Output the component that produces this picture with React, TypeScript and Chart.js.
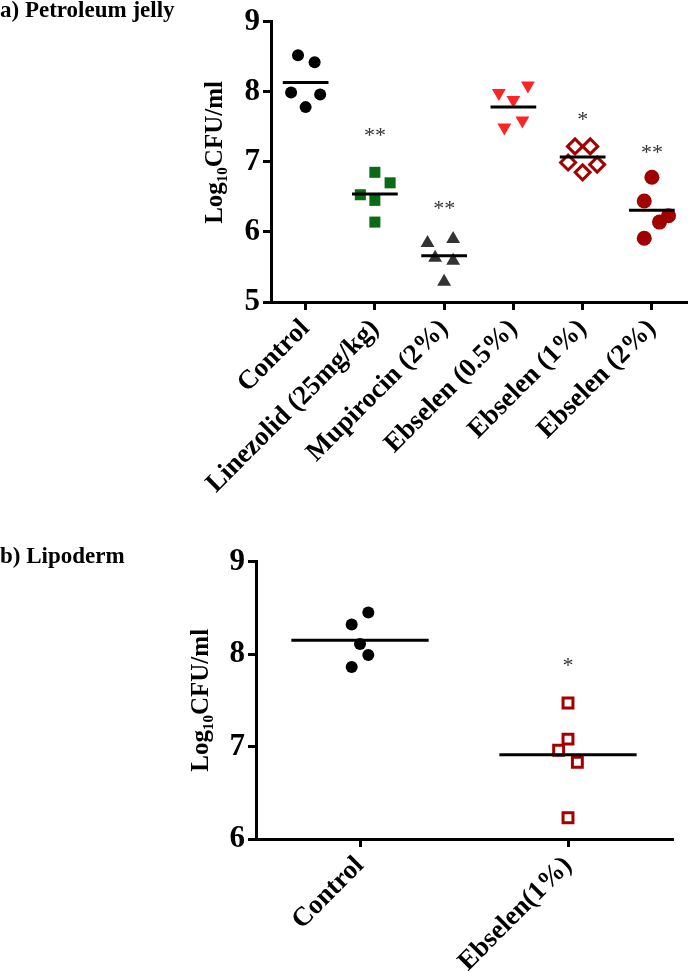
import React, { useEffect, useRef } from 'react';
import { Chart, registerables } from 'chart.js';
Chart.register(...registerables);

const FONT = "'Liberation Serif', 'Times New Roman', serif";

// ---------- Panel a) Petroleum jelly ----------
const topCategories = ['Control', 'Linezolid (25mg/kg)', 'Mupirocin (2%)', 'Ebselen (0.5%)', 'Ebselen (1%)', 'Ebselen (2%)'];
const topValues = [
  [8.52, 8.42, 7.99, 7.96, 7.78],
  [6.85, 6.70, 6.53, 6.45, 6.14],
  [5.84, 5.90, 5.63, 5.59, 5.29],
  [7.98, 8.09, 7.88, 7.59, 7.49],
  [7.22, 7.22, 6.99, 6.96, 6.85],
  [6.78, 6.44, 6.23, 6.14, 5.91],
];
const topJitter = [
  [-0.11, 0.13, -0.21, 0.21, 0],
  [0, 0.22, -0.21, 0, 0],
  [-0.24, 0.13, -0.13, 0.13, 0],
  [-0.21, 0.21, 0, 0.13, -0.13],
  [-0.11, 0.11, -0.21, 0.21, 0],
  [0, -0.11, 0.24, 0.11, -0.11],
];
const topMeans = [8.13, 6.54, 5.66, 7.78, 7.07, 6.31];
const topStars = ['', '**', '**', '', '*', '**'];
const topStarLevels = [null, 7.42, 6.38, null, 7.66, 7.18];
const topYTicks = [5, 6, 7, 8, 9];

// ---------- Panel b) Lipoderm ----------
const bottomCategories = ['Control', 'Ebselen(1%)'];
const bottomValues = [
  [8.45, 8.32, 8.11, 7.99, 7.86],
  [7.47, 7.08, 6.96, 6.83, 6.23],
];
const bottomJitter = [
  [0.04, -0.04, 0, 0.04, -0.04],
  [0, 0, -0.045, 0.045, 0],
];
const bottomMeans = [8.15, 6.91];
const bottomStars = ['', '*'];
const bottomStarLevels = [null, 7.91];
const bottomYTicks = [6, 7, 8, 9];

const yTitle = 'Log\u2081\u2080CFU/ml';

type MarkerStyle = { pointStyle: string; color: string; fill: string; radius: number; borderWidth: number; rotation?: number };

const topMarkers: MarkerStyle[] = [
  { pointStyle: 'circle', color: '#000000', fill: '#000000', radius: 6, borderWidth: 0 },
  { pointStyle: 'rect', color: '#0b6a14', fill: '#0b6a14', radius: 7.8, borderWidth: 0 },
  { pointStyle: 'triangle', color: '#333333', fill: '#333333', radius: 8, borderWidth: 0 },
  { pointStyle: 'triangle', color: '#ff2424', fill: '#ff2424', radius: 8, borderWidth: 0, rotation: 180 },
  { pointStyle: 'rectRot', color: '#a30000', fill: '#ffffff', radius: 7.5, borderWidth: 3 },
  { pointStyle: 'circle', color: '#a00000', fill: '#a00000', radius: 7.5, borderWidth: 0 },
];
const bottomMarkers: MarkerStyle[] = [
  { pointStyle: 'circle', color: '#000000', fill: '#000000', radius: 6, borderWidth: 0 },
  { pointStyle: 'rect', color: '#a30000', fill: '#ffffff', radius: 7, borderWidth: 3 },
];

type PanelCfg = {
  categories: string[];
  values: number[][];
  jitter: number[][];
  means: number[];
  stars: string[];
  starLevels: (number | null)[];
  yTicks: number[];
  markers: MarkerStyle[];
  title: string;
  padLeft: number;
  padRight: number;
  padTop: number;
  yWidth: number;
  xHeight: number;
};

function buildChart(canvas: HTMLCanvasElement, p: PanelCfg) {
  const datasets: any[] = [];
  p.values.forEach((vals, i) => {
    const m = p.markers[i];
    datasets.push({
      type: 'scatter',
      label: p.categories[i],
      data: vals.map((v, j) => ({ x: i + p.jitter[i][j], y: v })),
      pointStyle: m.pointStyle,
      pointRadius: m.radius,
      pointBackgroundColor: m.fill,
      pointBorderColor: m.color,
      pointBorderWidth: m.borderWidth,
      pointRotation: m.rotation || 0,
      showLine: false,
      clip: false,
      order: 2,
    });
  });
  p.means.forEach((mean, i) => {
    datasets.push({
      type: 'line',
      label: 'mean ' + p.categories[i],
      data: [{ x: i - 0.33, y: mean }, { x: i + 0.33, y: mean }],
      borderColor: '#000000',
      borderWidth: 3,
      pointRadius: 0,
      fill: false,
      clip: false,
      order: 1,
    });
  });

  const starPlugin = {
    id: 'stars',
    afterDatasetsDraw(chart: any) {
      const { ctx, scales } = chart;
      ctx.save();
      ctx.fillStyle = '#333333';
      ctx.font = `22px ${FONT}`;
      ctx.textAlign = 'center';
      ctx.textBaseline = 'alphabetic';
      p.stars.forEach((s, i) => {
        const lvl = p.starLevels[i];
        if (!s || lvl === null) return;
        const x = scales.x.getPixelForValue(i);
        const y = scales.y.getPixelForValue(lvl);
        ctx.fillText(s, x, y + 10);
      });
      ctx.restore();
    },
  };

  return new Chart(canvas, {
    type: 'scatter',
    data: { datasets },
    plugins: [starPlugin],
    options: {
      animation: false,
      responsive: false,
      maintainAspectRatio: false,
      events: [],
      layout: { padding: { left: p.padLeft, right: p.padRight, top: p.padTop, bottom: 0 } },
      plugins: { legend: { display: false }, tooltip: { enabled: false }, title: { display: false } },
      scales: {
        x: {
          type: 'linear',
          min: -0.5,
          max: p.categories.length - 0.5,
          afterBuildTicks: (s: any) => {
            s.ticks = p.categories.map((_, i) => ({ value: i }));
          },
          afterFit: (s: any) => {
            s.height = p.xHeight;
          },
          ticks: {
            autoSkip: false,
            maxRotation: 45,
            minRotation: 45,
            padding: 3,
            color: '#000000',
            font: { family: FONT, size: 27, weight: 'bold' },
            callback: (v: any) => p.categories[Math.round(v)] ?? '',
          },
          grid: { drawOnChartArea: false, drawTicks: true, tickLength: 8, color: '#000000', lineWidth: 3 },
          border: { display: true, color: '#000000', width: 3 },
        },
        y: {
          type: 'linear',
          min: p.yTicks[0],
          max: p.yTicks[p.yTicks.length - 1],
          afterBuildTicks: (s: any) => {
            s.ticks = p.yTicks.map((v) => ({ value: v }));
          },
          afterFit: (s: any) => {
            s.width = p.yWidth;
          },
          ticks: {
            padding: 3,
            color: '#000000',
            font: { family: FONT, size: 31, weight: 'bold' },
          },
          grid: { drawOnChartArea: false, drawTicks: true, tickLength: 8, color: '#000000', lineWidth: 3 },
          border: { display: true, color: '#000000', width: 3 },
          title: {
            display: true,
            text: p.title,
            color: '#000000',
            font: { family: FONT, size: 25, weight: 'bold' },
            padding: { top: 4, bottom: 0 },
          },
        },
      },
    } as any,
  });
}

export default function App() {
  const topRef = useRef<HTMLCanvasElement>(null);
  const bottomRef = useRef<HTMLCanvasElement>(null);

  useEffect(() => {
    const c1 = buildChart(topRef.current!, {
      categories: topCategories,
      values: topValues,
      jitter: topJitter,
      means: topMeans,
      stars: topStars,
      starLevels: topStarLevels,
      yTicks: topYTicks,
      markers: topMarkers,
      title: '   ' + yTitle,
      padLeft: 197,
      padRight: 3,
      padTop: 21,
      yWidth: 74,
      xHeight: 238,
    });
    const c2 = buildChart(bottomRef.current!, {
      categories: bottomCategories,
      values: bottomValues,
      jitter: bottomJitter,
      means: bottomMeans,
      stars: bottomStars,
      starLevels: bottomStarLevels,
      yTicks: bottomYTicks,
      markers: bottomMarkers,
      title: yTitle,
      padLeft: 183,
      padRight: 25,
      padTop: 21,
      yWidth: 73,
      xHeight: 133,
    });
    return () => {
      c1.destroy();
      c2.destroy();
    };
  }, []);

  const titleStyle: React.CSSProperties = {
    position: 'absolute',
    left: 0,
    fontFamily: FONT,
    fontWeight: 'bold',
    fontSize: 23,
    lineHeight: '23px',
    color: '#000',
    whiteSpace: 'nowrap',
  };

  return (
    <div style={{ position: 'absolute', left: 0, top: 0, width: 697, height: 972, background: '#fff', overflow: 'hidden' }}>
      <canvas ref={topRef} width={697} height={540} style={{ position: 'absolute', left: 0, top: 0, width: 697, height: 540 }} />
      <canvas ref={bottomRef} width={697} height={432} style={{ position: 'absolute', left: 0, top: 540, width: 697, height: 432 }} />
      <div style={{ ...titleStyle, top: -2 }}>a) Petroleum jelly</div>
      <div style={{ ...titleStyle, top: 544 }}>b) Lipoderm</div>
    </div>
  );
}
